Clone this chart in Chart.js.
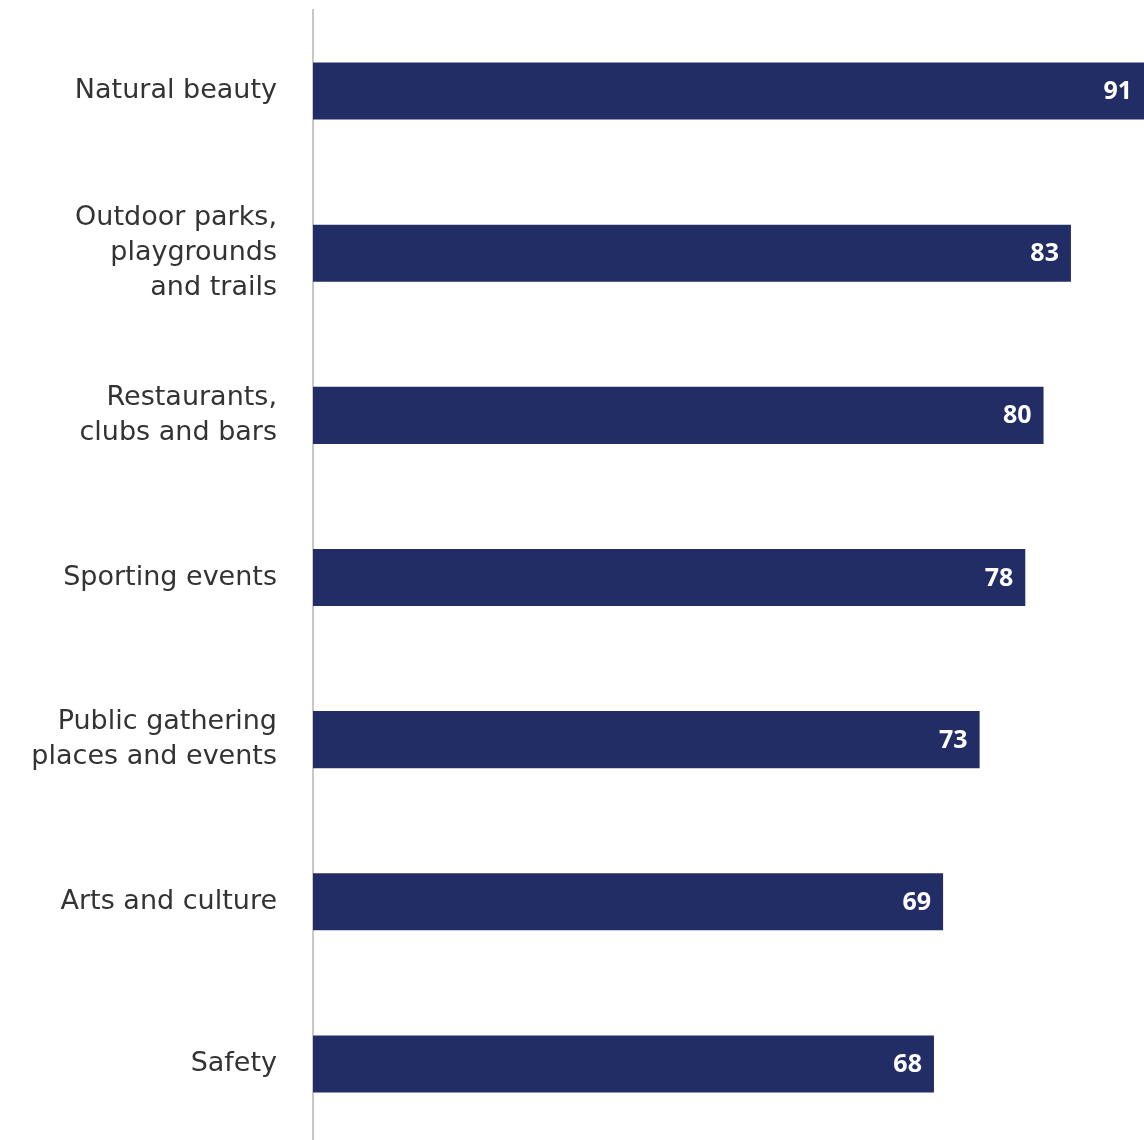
<!DOCTYPE html>
<html>
<head>
<meta charset="utf-8">
<script src="https://cdn.jsdelivr.net/npm/chart.js@4"></script>
<style>
  html, body { margin: 0; padding: 0; background: #fff; overflow: hidden; }
</style>
</head>
<body>
<canvas id="barChart" width="1144" height="1145"></canvas>
<script>
// categorias e valores
var categories = [
    'Natural beauty',
    ['Outdoor parks,', 'playgrounds', 'and trails'],
    ['Restaurants,', 'clubs and bars'],
    'Sporting events',
    ['Public gathering', 'places and events'],
    'Arts and culture',
    'Safety'
];
var values = [91, 83, 80, 78, 73, 69, 68];

// rotulos dentro da barra
var valueLabels = {
    id: 'valueLabels',
    afterDatasetsDraw: function (chart) {
        var ctx = chart.ctx;
        var meta = chart.getDatasetMeta(0);
        ctx.save();
        ctx.fillStyle = '#fff';
        ctx.font = 'bold 25px "Noto Sans", sans-serif';
        ctx.textAlign = 'right';
        ctx.textBaseline = 'middle';
        meta.data.forEach(function (bar, i) {
            ctx.fillText(values[i], bar.x - 12, bar.y + 1);
        });
        ctx.restore();
    }
};

var ctx = document.getElementById("barChart").getContext('2d');
var myChart = new Chart(ctx, {
    type: 'bar',
    data: {
        labels: categories,
        datasets: [{
            data: values,
            backgroundColor: '#222d66',
            categoryPercentage: 1,
            barPercentage: 0.352
        }]
    },
    options: {
        indexAxis: 'y',
        responsive: false,
        animation: false,
        layout: { padding: { top: 10, right: 0, bottom: 0, left: 0 } },
        plugins: {
            legend: { display: false },
            tooltip: { enabled: false }
        },
        scales: {
            x: {
                display: false,
                min: 0,
                max: 91
            },
            y: {
                afterFit: function (scale) {
                    scale.width = 313;
                    scale.paddingTop = 0;
                    scale.paddingBottom = 0;
                },
                grid: { display: false, drawTicks: false },
                border: { display: true, color: '#c8c8c8', width: 2 },
                ticks: {
                    color: '#333',
                    padding: 36,
                    font: { family: '"DejaVu Sans", sans-serif', size: 27, lineHeight: 1.3 }
                }
            }
        }
    },
    plugins: [valueLabels]
});
</script>
</body>
</html>
